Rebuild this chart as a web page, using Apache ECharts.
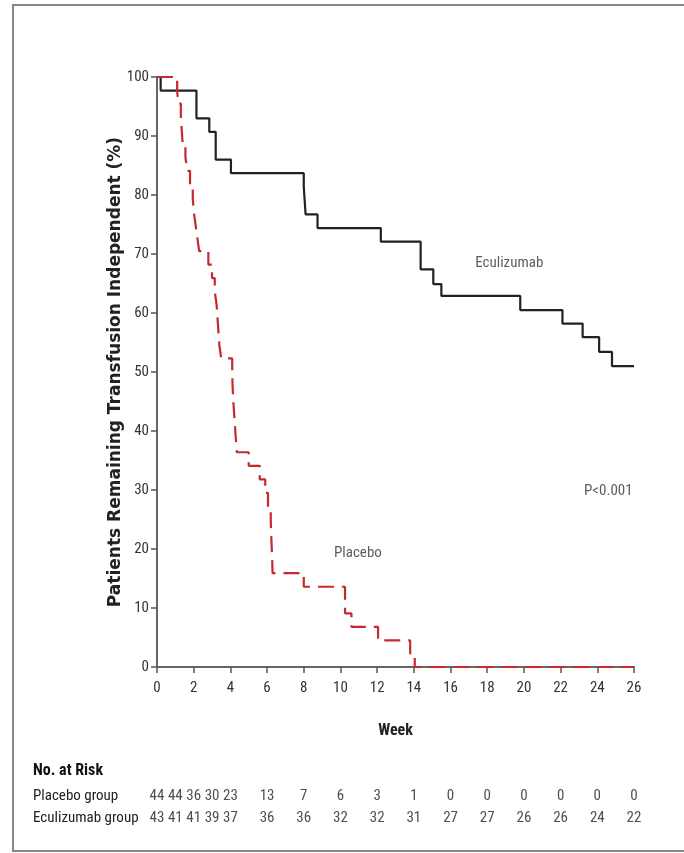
<!DOCTYPE html>
<html>
<head>
<meta charset="utf-8">
<script src="https://cdn.jsdelivr.net/npm/echarts@6/dist/echarts.min.js"></script>
<style>html,body{margin:0;padding:0;background:#fff}#c{width:684px;height:853px}</style>
</head>
<body>
<div id="c"></div>
<script>
// Kaplan-Meier steps: [week, percent]
var eculizumabSteps = [[0,100],[0.2,97.7],[2.15,93.0],[2.85,90.7],[3.2,86.0],[4.03,83.7],[8.0,81.4],[8.1,76.7],[8.75,74.4],[12.2,72.1],[14.37,67.4],[15.06,64.9],[15.5,62.9],[19.8,60.5],[22.1,58.2],[23.2,55.9],[24.1,53.4],[24.8,51.0],[26,51.0]];
var placeboSteps = [[0,100],[1.1,97.7],[1.15,95.5],[1.3,93.2],[1.35,90.9],[1.4,88.6],[1.55,86.4],[1.65,84.1],[1.8,81.8],[1.95,79.5],[2.0,77.3],[2.1,75.0],[2.2,72.7],[2.3,70.5],[2.8,68.2],[3.0,65.9],[3.15,63.6],[3.25,61.4],[3.3,59.1],[3.35,56.8],[3.4,54.5],[3.5,52.3],[4.1,50.0],[4.12,47.7],[4.15,45.5],[4.2,43.2],[4.25,40.9],[4.3,38.6],[4.35,36.4],[5.0,34.1],[5.6,31.8],[5.9,29.5],[6.05,27.3],[6.2,25.0],[6.22,22.7],[6.25,20.5],[6.28,18.2],[6.3,15.9],[8.0,13.6],[10.25,9.1],[10.6,6.8],[12.05,4.5],[13.8,2.3],[14.05,0],[26,0]];
var weekTicks = [0,2,4,6,8,10,12,14,16,18,20,22,24,26];
var percentTicks = [0,10,20,30,40,50,60,70,80,90,100];
var riskWeeks = [0,1,2,3,4,6,8,10,12,14,16,18,20,22,24,26];
var placeboAtRisk = [44,44,36,30,23,13,7,6,3,1,0,0,0,0,0,0];
var eculizumabAtRisk = [43,41,41,39,37,36,36,32,32,31,27,27,26,26,24,22];
var groups = ['Eculizumab group','Placebo group'];
var annotations = [['Eculizumab',19.2,68.5],['Placebo',10.95,19.3],['P<0.001',24.6,29.8]];

var FONT = "'Liberation Sans Narrow','Roboto Condensed','Liberation Sans',sans-serif";
var chart = echarts.init(document.getElementById('c'), null, {renderer:'canvas'});

function riskData(vals, row){
  return riskWeeks.map(function(w,i){return [w, row, vals[i]];});
}

var option = {
  animation:false,
  backgroundColor:'#fff',
  grid:[
    {left:157, right:50, top:77, bottom:186},
    {left:157, right:50, top:785, height:44}
  ],
  xAxis:[
    {type:'value', gridIndex:0, min:0, max:26, interval:2,
     name:'Week', nameLocation:'middle', nameGap:56, nameMoveOverlap:false,
     nameTextStyle:{fontFamily:FONT, fontSize:16, fontWeight:'bold', color:'#222'},
     axisLine:{lineStyle:{color:'#666', width:2}},
     axisTick:{show:true, length:6, lineStyle:{color:'#555', width:1.5}},
     axisLabel:{fontFamily:FONT, fontSize:15, color:'#333', margin:14},
     splitLine:{show:false}},
    {type:'value', gridIndex:1, min:0, max:26, show:false}
  ],
  yAxis:[
    {type:'value', gridIndex:0, min:0, max:100, interval:10,
     name:'Patients Remaining Transfusion Independent (%)', nameLocation:'middle', nameGap:33, nameRotate:90, nameMoveOverlap:false,
     nameTextStyle:{fontFamily:"'DejaVu Sans',sans-serif", fontSize:17, fontWeight:'bold', color:'#222'},
     axisLine:{show:true, lineStyle:{color:'#666', width:2}},
     axisTick:{show:true, length:6, lineStyle:{color:'#555', width:1.5}},
     axisLabel:{fontFamily:FONT, fontSize:15, color:'#333', margin:8},
     splitLine:{show:false}},
    {type:'category', gridIndex:1, data:groups, inverse:false,
     axisLine:{show:false}, axisTick:{show:false},
     axisLabel:{fontFamily:FONT, fontSize:15, color:'#222', align:'left', margin:124}}
  ],
  graphic:[
    {type:'rect', shape:{x:13, y:5, width:700, height:846}, style:{fill:'none', stroke:'#888', lineWidth:2}, silent:true},
    {type:'text', left:33, top:763, style:{text:'No. at Risk', font:"bold 16px "+FONT, fill:'#111'}}
  ],
  series:[
    {type:'line', name:'Eculizumab', xAxisIndex:0, yAxisIndex:0, step:'end', data:eculizumabSteps,
     showSymbol:false, lineStyle:{color:'#222', width:2.2}, z:3},
    {type:'line', name:'Placebo', xAxisIndex:0, yAxisIndex:0, step:'end', data:placeboSteps,
     showSymbol:false, lineStyle:{color:'#c42a2e', width:2.2, type:[16,8]}, z:4},
    {type:'scatter', xAxisIndex:0, yAxisIndex:0, symbolSize:0, silent:true,
     data:annotations.map(function(a){return {value:[a[1],a[2]], name:a[0]};}),
     label:{show:true, position:'inside', formatter:function(p){return p.name;}, fontFamily:FONT, fontSize:15, color:'#333'}},
    {type:'scatter', xAxisIndex:1, yAxisIndex:1, symbolSize:0, silent:true,
     data:riskData(placeboAtRisk, 1),
     label:{show:true, position:'inside', formatter:function(p){return p.value[2];}, fontFamily:FONT, fontSize:15, color:'#222'}},
    {type:'scatter', xAxisIndex:1, yAxisIndex:1, symbolSize:0, silent:true,
     data:riskData(eculizumabAtRisk, 0),
     label:{show:true, position:'inside', formatter:function(p){return p.value[2];}, fontFamily:FONT, fontSize:15, color:'#222'}}
  ]
};
chart.setOption(option);
</script>
</body>
</html>
